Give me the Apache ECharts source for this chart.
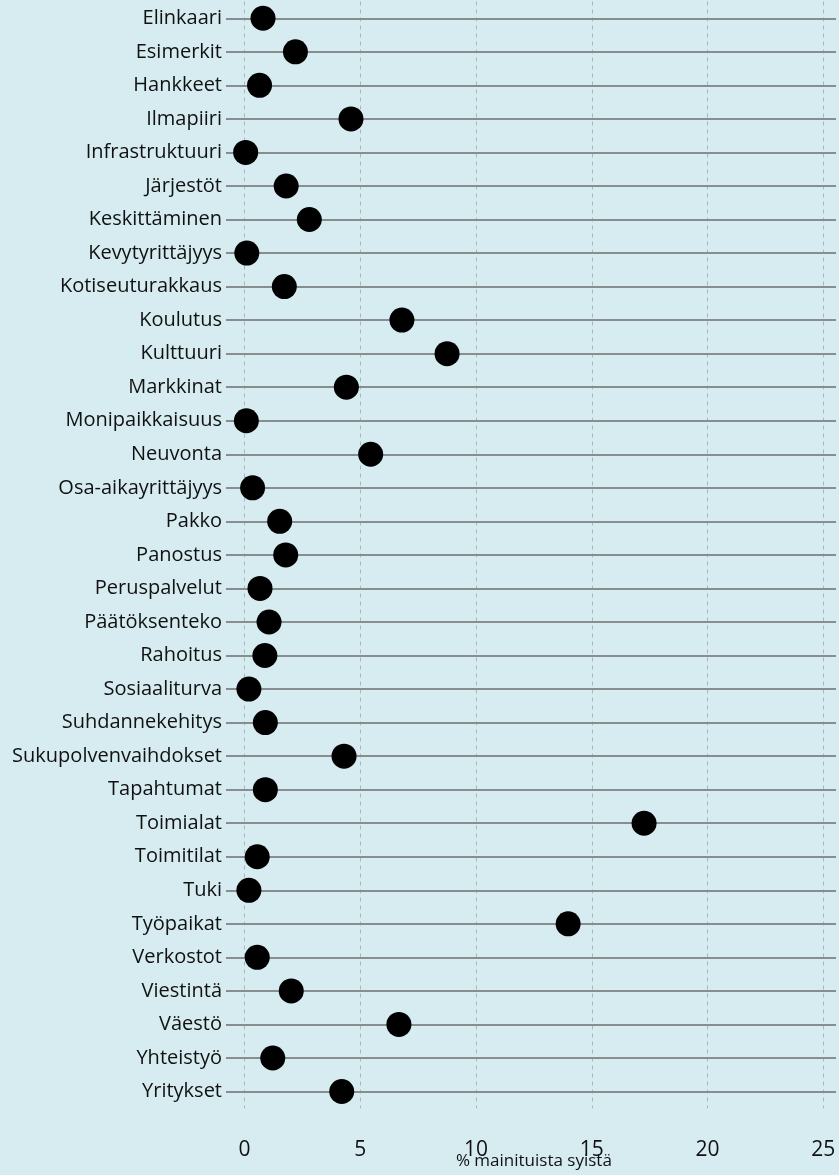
<!DOCTYPE html>
<html>
<head>
<meta charset="utf-8">
<script src="https://cdn.jsdelivr.net/npm/echarts@6/dist/echarts.min.js"></script>
<style>
  html, body { margin: 0; padding: 0; background: #d6ecf1; }
  #chart { width: 839px; height: 1175px; }
</style>
</head>
<body>
<div id="chart"></div>
<script>
// Reasons mentioned, share of all mentions (%)
const categories = [
  'Elinkaari', 'Esimerkit', 'Hankkeet', 'Ilmapiiri', 'Infrastruktuuri', 'Järjestöt',
  'Keskittäminen', 'Kevytyrittäjyys', 'Kotiseuturakkaus', 'Koulutus', 'Kulttuuri',
  'Markkinat', 'Monipaikkaisuus', 'Neuvonta', 'Osa-aikayrittäjyys', 'Pakko', 'Panostus',
  'Peruspalvelut', 'Päätöksenteko', 'Rahoitus', 'Sosiaaliturva', 'Suhdannekehitys',
  'Sukupolvenvaihdokset', 'Tapahtumat', 'Toimialat', 'Toimitilat', 'Tuki', 'Työpaikat',
  'Verkostot', 'Viestintä', 'Väestö', 'Yhteistyö', 'Yritykset'
];
const shares = [
  0.8, 2.2, 0.65, 4.6, 0.05, 1.8,
  2.8, 0.1, 1.72, 6.8, 8.75,
  4.4, 0.08, 5.45, 0.35, 1.52, 1.78,
  0.67, 1.06, 0.88, 0.19, 0.9,
  4.3, 0.9, 17.26, 0.55, 0.19, 13.98,
  0.55, 2.02, 6.67, 1.22, 4.2
];
const xTickRange = { min: 0, max: 25, interval: 5 };
const xAxisTitle = '% mainituista syistä';

const FONT = 'Open Sans';
const TEXT = '#111111';
const gridTop = 1.5;
const gridHeight = 1106.8;

const chart = echarts.init(document.getElementById('chart'), null, { renderer: 'canvas' });

chart.setOption({
  backgroundColor: '#d6ecf1',
  animation: false,
  grid: [
    // row lines + category labels
    { left: 226, right: 3, top: gridTop, height: gridHeight, outerBoundsMode: 'none' },
    // value scale for the dots
    { left: 244.5, right: 15.75, top: gridTop, height: gridHeight, outerBoundsMode: 'none' }
  ],
  xAxis: [
    { gridIndex: 0, type: 'value', min: 0, max: 1, show: false },
    {
      gridIndex: 1, type: 'value', position: 'bottom',
      min: xTickRange.min, max: xTickRange.max, interval: xTickRange.interval,
      axisLine: { show: false, onZero: false },
      axisTick: { show: false },
      splitLine: { show: true, lineStyle: { color: '#a7b7bb', width: 1, type: [4, 4] } },
      axisLabel: {
        fontFamily: FONT, fontSize: 21, color: TEXT, margin: 30,
        verticalAlign: 'top', lineHeight: 24
      },
      name: xAxisTitle,
      nameLocation: 'middle',
      nameGap: 44,
      nameMoveOverlap: false,
      nameTextStyle: { fontFamily: FONT, fontSize: 17, color: TEXT }
    }
  ],
  yAxis: [
    {
      gridIndex: 0, type: 'category', data: categories, inverse: true,
      axisLine: { show: false },
      axisTick: {
        show: true, alignWithLabel: true, inside: true, length: 610, interval: 0,
        lineStyle: { color: '#888d8f', width: 2 }
      },
      splitLine: { show: false },
      axisLabel: { interval: 0, margin: 4, fontFamily: FONT, fontSize: 20, color: TEXT }
    },
    {
      gridIndex: 1, type: 'category', data: categories, inverse: true, show: false
    }
  ],
  series: [
    {
      type: 'scatter',
      xAxisIndex: 1, yAxisIndex: 1,
      symbol: 'circle',
      symbolSize: 25,
      itemStyle: { color: '#000000', opacity: 1 },
      data: shares.map((v, i) => [v, i]),
      z: 5
    }
  ]
});
</script>
</body>
</html>
